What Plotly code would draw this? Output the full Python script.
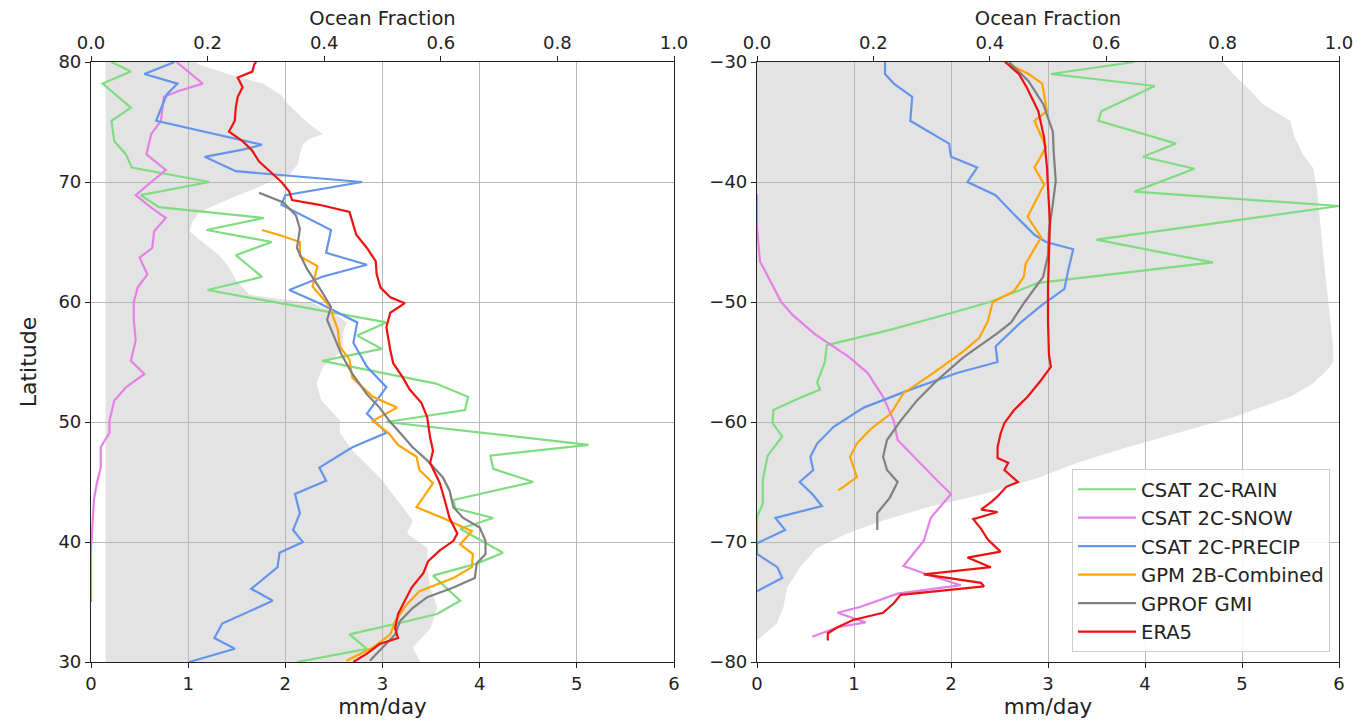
import plotly.graph_objects as go

# ---------------- Northern hemisphere (left panel) ----------------
nh_of_lat = [80.0, 79.8, 79.0, 78.2, 77.3, 76.5, 75.8, 74.8, 74.0, 73.6, 73.1, 72.3, 71.5, 70.6, 70.0,
             69.5, 68.7, 67.5, 66.7, 65.9, 65.0, 63.9, 62.9, 61.7, 60.6, 59.9, 59.3, 58.3, 57.4, 56.0,
             54.6, 53.2, 51.8, 50.15, 49.1, 47.6, 46.2, 45.1, 43.5, 41.8, 40.7, 39.5, 37.9, 36.2, 34.5,
             32.8, 31.2, 30.0]
nh_of = [0.18, 0.185, 0.235, 0.295, 0.325, 0.338, 0.353, 0.375, 0.398, 0.375, 0.363, 0.358, 0.355, 0.34,
         0.306, 0.284, 0.243, 0.186, 0.174, 0.169, 0.191, 0.22, 0.237, 0.25, 0.272, 0.38, 0.41, 0.439,
         0.432, 0.432, 0.398, 0.387, 0.395, 0.427, 0.427, 0.449, 0.478, 0.5, 0.525, 0.552, 0.542, 0.577,
         0.577, 0.582, 0.594, 0.582, 0.552, 0.565]

nh_rain_lat = [80.0, 79.2, 78.2, 76.2, 75.1, 73.4, 72.3, 71.2, 70.0, 68.9, 67.9, 67.0, 66.0, 65.0, 63.9,
               62.1, 61.0, 58.3, 57.2, 56.1, 55.1, 53.2, 52.1, 51.0, 50.0, 48.1, 47.2, 46.1, 45.0, 43.5,
               42.8, 42.0, 41.1, 39.1, 38.2, 37.2, 35.1, 34.0, 33.4, 32.3, 31.1, 30.0]
nh_rain = [0.21, 0.41, 0.12, 0.41, 0.21, 0.24, 0.36, 0.42, 1.22, 0.51, 0.70, 1.78, 1.19, 1.86, 1.49,
           1.76, 1.20, 3.04, 2.74, 2.99, 2.38, 3.55, 3.88, 3.85, 3.04, 5.12, 4.11, 4.14, 4.55, 3.73,
           3.75, 4.14, 3.80, 4.24, 3.97, 3.52, 3.80, 3.56, 3.25, 2.66, 2.84, 2.12]

nh_snow_lat = [80.0, 78.2, 77.6, 77.1, 75.1, 74.0, 72.3, 71.0, 70.0, 68.9, 67.8, 67.0, 65.9, 64.5, 63.7,
               62.3, 61.2, 60.0, 58.5, 56.8, 55.1, 54.0, 52.9, 51.8, 50.1, 49.1, 47.9, 46.2, 44.9, 43.5,
               40.7, 39.3, 35.0]
nh_snow = [0.88, 1.15, 0.91, 0.75, 0.72, 0.62, 0.57, 0.77, 0.62, 0.46, 0.63, 0.77, 0.65, 0.63, 0.50,
           0.58, 0.48, 0.44, 0.44, 0.46, 0.41, 0.55, 0.36, 0.24, 0.19, 0.19, 0.10, 0.10, 0.06, 0.03,
           0.01, 0.0, 0.0]

nh_precip_lat = [80.0, 79.0, 78.2, 77.3, 75.1, 73.1, 72.7, 72.1, 70.9, 70.0, 68.9, 68.1, 66.0, 64.1, 63.1,
                 62.1, 61.0, 59.9, 58.3, 56.6, 54.6, 52.9, 50.7, 49.1, 47.9, 46.2, 45.1, 44.0, 42.4, 41.0,
                 40.0, 39.1, 37.9, 36.1, 35.1, 33.2, 32.0, 31.1, 30.0]
nh_precip = [0.86, 0.55, 0.89, 0.78, 0.67, 1.76, 1.56, 1.17, 1.49, 2.79, 2.0, 1.96, 2.47, 2.42, 2.84,
             2.38, 2.04, 2.35, 2.74, 2.70, 2.84, 3.04, 2.84, 3.04, 2.69, 2.35, 2.42, 2.10, 2.15, 2.08,
             2.18, 1.94, 1.92, 1.65, 1.87, 1.35, 1.27, 1.48, 1.01]

nh_gpm_lat = [66.0, 65.5, 65.0, 63.8, 63.0, 61.3, 59.6, 58.8, 57.7, 56.3, 55.2, 53.7, 52.1, 51.2, 50.1,
              49.1, 48.1, 47.1, 46.0, 44.9, 42.9, 42.0, 40.9, 39.8, 39.0, 37.9, 37.0, 35.9, 34.8, 33.4,
              32.3, 31.2, 30.1]
nh_gpm = [1.76, 1.97, 2.15, 2.15, 2.33, 2.28, 2.46, 2.49, 2.54, 2.56, 2.66, 2.69, 2.90, 3.15, 2.90,
          3.06, 3.16, 3.35, 3.38, 3.52, 3.35, 3.62, 3.92, 3.80, 3.93, 3.92, 3.73, 3.38, 3.25, 3.13,
          3.08, 2.90, 2.63]

nh_gprof_lat = [69.1, 68.3, 67.2, 66.1, 64.5, 62.8, 61.2, 59.6, 58.5, 57.3, 55.6, 54.0, 52.3, 51.2, 50.1,
                49.1, 47.9, 46.8, 45.4, 44.3, 42.9, 42.0, 41.2, 40.1, 39.0, 38.2, 37.0, 36.2, 35.4, 34.5,
                33.4, 32.3, 31.2, 30.1]
nh_gprof = [1.73, 1.98, 2.11, 2.15, 2.12, 2.22, 2.35, 2.47, 2.43, 2.49, 2.58, 2.69, 2.84, 2.97, 3.07,
            3.18, 3.31, 3.46, 3.62, 3.69, 3.73, 3.83, 4.0, 4.06, 4.06, 3.97, 3.95, 3.73, 3.46, 3.31,
            3.18, 3.13, 3.0, 2.87]

nh_era5_lat = [80.0, 79.8, 79.2, 78.7, 77.9, 77.1, 76.2, 75.1, 74.2, 73.4, 72.6, 71.7, 70.9, 70.0, 69.2,
               68.5, 68.1, 67.5, 66.7, 65.6, 64.5, 63.4, 62.3, 61.2, 60.4, 59.9, 59.1, 57.9, 56.0, 54.9,
               53.7, 52.7, 51.6, 50.4, 48.7, 47.6, 46.6, 45.5, 44.9, 43.5, 42.0, 40.7, 40.1, 39.3, 38.4,
               37.4, 36.2, 35.1, 34.0, 32.8, 32.0, 31.5, 30.7, 30.0]
nh_era5 = [1.70, 1.68, 1.66, 1.51, 1.56, 1.51, 1.49, 1.48, 1.42, 1.56, 1.66, 1.73, 1.84, 1.96, 2.04,
           2.07, 2.35, 2.66, 2.69, 2.73, 2.84, 2.93, 2.94, 2.98, 3.08, 3.23, 3.08, 3.04, 3.08, 3.11,
           3.21, 3.28, 3.40, 3.46, 3.49, 3.52, 3.49, 3.55, 3.59, 3.64, 3.69, 3.77, 3.73, 3.59, 3.47,
           3.42, 3.30, 3.23, 3.16, 3.13, 3.16, 2.97, 2.84, 2.70]

# ---------------- Southern hemisphere (right panel) ----------------
sh_of_lat = [-30.0, -31.0, -32.1, -33.5, -34.9, -36.3, -37.7, -38.8, -40.5, -43.3, -46.1, -48.8, -51.7,
             -53.8, -55.0, -55.7, -56.8, -57.9, -59.6, -60.7, -62.1, -63.4, -64.7, -66.0, -67.1, -68.2,
             -69.3, -70.5, -72.1, -73.8, -75.5, -76.8, -78.0, -78.2]
sh_of = [0.80, 0.818, 0.842, 0.869, 0.916, 0.924, 0.938, 0.955, 0.962, 0.967, 0.973, 0.979, 0.985,
         0.990, 0.990, 0.979, 0.955, 0.916, 0.818, 0.739, 0.636, 0.55, 0.48, 0.39, 0.293, 0.217,
         0.155, 0.103, 0.074, 0.052, 0.045, 0.034, 0.005, 0.0]

sh_rain_lat = [-30.0, -31.0, -32.0, -34.1, -34.9, -36.8, -37.9, -38.9, -40.8, -42.0, -44.8, -46.7, -48.4,
               -50.0, -51.1, -52.3, -53.6, -55.0, -56.7, -57.3, -58.1, -59.0, -60.1, -61.2, -62.8, -64.8,
               -66.8, -67.9, -70.0]
sh_rain = [3.89, 3.03, 4.10, 3.55, 3.52, 4.32, 3.98, 4.51, 3.89, 6.0, 3.50, 4.70, 2.90,
           2.40, 1.92, 1.38, 0.72, 0.70, 0.62, 0.65, 0.41, 0.17, 0.16, 0.26, 0.11, 0.06,
           0.06, 0.0, 0.0]

sh_snow_lat = [-41.0, -43.7, -46.6, -48.8, -50.0, -51.1, -52.7, -54.6, -55.9, -57.9, -59.9, -61.5, -63.2,
               -64.9, -66.0, -68.0, -69.9, -72.0, -72.6, -73.6, -74.3, -75.4, -75.9, -76.7, -77.1, -77.9]
sh_snow = [0.0, 0.0, 0.03, 0.17, 0.25, 0.37, 0.60, 0.95, 1.14, 1.30, 1.41, 1.45, 1.65,
           1.86, 2.0, 1.79, 1.72, 1.51, 1.72, 2.10, 1.45, 1.07, 0.83, 1.12, 0.83, 0.57]

sh_precip_lat = [-30.0, -31.0, -31.8, -32.9, -34.9, -36.0, -36.8, -37.9, -38.8, -40.0, -41.1, -42.7, -44.4,
                 -45.0, -45.6, -47.3, -48.9, -50.3, -51.7, -53.7, -55.0, -55.9, -57.3, -58.8, -60.4, -61.8,
                 -62.9, -64.0, -65.0, -66.0, -67.0, -68.0, -69.0, -70.1, -71.0, -72.1, -73.0, -74.1]
sh_precip = [1.32, 1.32, 1.41, 1.60, 1.58, 1.82, 1.98, 2.0, 2.27, 2.17, 2.46, 2.65, 2.86,
             2.98, 3.26, 3.21, 3.17, 2.93, 2.72, 2.46, 2.48, 2.07, 1.58, 1.10, 0.79, 0.62,
             0.55, 0.58, 0.44, 0.57, 0.67, 0.19, 0.29, 0.0, 0.0, 0.21, 0.26, 0.0]

sh_gpm_lat = [-30.0, -31.0, -31.8, -34.1, -34.9, -37.1, -38.8, -40.2, -42.9, -44.6, -46.8, -47.9, -49.1,
              -50.0, -51.6, -53.0, -54.1, -55.9, -57.6, -59.3, -60.6, -61.8, -62.9, -64.6, -65.7]
sh_gpm = [2.55, 2.80, 2.94, 2.99, 2.86, 2.98, 2.86, 2.96, 2.79, 2.93, 2.77, 2.75, 2.65,
          2.43, 2.38, 2.29, 2.13, 1.82, 1.51, 1.38, 1.17, 1.03, 0.96, 1.03, 0.84]

sh_gprof_lat = [-30.0, -31.6, -33.5, -35.8, -37.7, -39.9, -41.8, -44.1, -46.1, -47.9, -50.0, -51.7, -52.6,
                -54.6, -56.5, -58.2, -59.9, -61.5, -62.9, -64.0, -65.0, -66.3, -67.6, -69.0]
sh_gprof = [2.60, 2.80, 2.95, 3.05, 3.06, 3.08, 3.05, 3.01, 3.0, 2.95, 2.76, 2.62, 2.48,
            2.13, 1.86, 1.65, 1.48, 1.34, 1.30, 1.34, 1.45, 1.37, 1.24, 1.24]

sh_era5_lat = [-30.0, -31.0, -32.1, -34.1, -36.3, -38.8, -40.5, -43.3, -46.1, -48.8, -51.7, -54.4, -55.4,
               -56.5, -57.9, -59.0, -60.1, -61.0, -62.1, -63.0, -63.4, -64.0, -65.0, -65.4, -66.2, -66.7,
               -67.3, -67.5, -68.1, -68.9, -69.8, -70.8, -71.3, -72.1, -72.7, -73.4, -73.7, -74.1, -74.4,
               -75.1, -75.9, -76.5, -77.1, -77.6, -78.2]
sh_era5 = [2.56, 2.70, 2.78, 2.90, 2.96, 2.99, 3.0, 3.02, 3.01, 3.0, 3.0, 3.01, 3.03,
           2.93, 2.79, 2.65, 2.55, 2.51, 2.48, 2.48, 2.59, 2.55, 2.69, 2.57, 2.48, 2.41,
           2.31, 2.48, 2.23, 2.31, 2.38, 2.51, 2.17, 2.41, 1.72, 2.31, 2.34, 1.82, 1.48,
           1.41, 1.30, 0.99, 0.83, 0.73, 0.73]

series_names = ["CSAT 2C-RAIN", "CSAT 2C-SNOW", "CSAT 2C-PRECIP", "GPM 2B-Combined", "GPROF GMI", "ERA5"]
series_colors = ["#80dc80", "#e680e6", "#6495ed", "#ffa500", "#808080", "#ee1111"]

nh_series = [(nh_rain_lat, nh_rain), (nh_snow_lat, nh_snow), (nh_precip_lat, nh_precip),
             (nh_gpm_lat, nh_gpm), (nh_gprof_lat, nh_gprof), (nh_era5_lat, nh_era5)]
sh_series = [(sh_rain_lat, sh_rain), (sh_snow_lat, sh_snow), (sh_precip_lat, sh_precip),
             (sh_gpm_lat, sh_gpm), (sh_gprof_lat, sh_gprof), (sh_era5_lat, sh_era5)]

fig = go.Figure()

FILL = "rgba(185,185,185,0.40)"
LW = 2.2


def add_fill(lat, frac, base, xa, ya):
    xs = list(frac) + [base] * len(lat)
    ys = list(lat) + list(lat)[::-1]
    fig.add_trace(go.Scatter(x=xs, y=ys, xaxis=xa, yaxis=ya, mode="lines", fill="toself",
                             fillcolor=FILL, line=dict(width=0), hoverinfo="skip", showlegend=False))


add_fill(nh_of_lat, nh_of, 0.025, "x", "y")
add_fill(sh_of_lat, sh_of, 0.0, "x2", "y2")

for (lat, val), name, col in zip(nh_series, series_names, series_colors):
    fig.add_trace(go.Scatter(x=val, y=lat, xaxis="x3", yaxis="y", mode="lines", name=name,
                             line=dict(color=col, width=LW), showlegend=False))
for (lat, val), name, col in zip(sh_series, series_names, series_colors):
    fig.add_trace(go.Scatter(x=val, y=lat, xaxis="x4", yaxis="y2", mode="lines", name=name,
                             line=dict(color=col, width=LW), showlegend=True))

W, H = 1361, 725
L_dom = [91 / W, 674 / W]
R_dom = [757 / W, 1339 / W]
Y_dom = [(H - 662) / H, (H - 62) / H]

TICKF = dict(family="DejaVu Sans", size=18, color="#222222")
common = dict(showline=True, linecolor="#222222", linewidth=1.2, ticks="outside", ticklen=5,
              tickwidth=1.2, tickcolor="#222222", tickfont=TICKF, zeroline=False, automargin=False)

frac_ticks = [0.0, 0.2, 0.4, 0.6, 0.8, 1.0]
frac_labels = ["0.0", "0.2", "0.4", "0.6", "0.8", "1.0"]
mm_ticks = [0, 1, 2, 3, 4, 5, 6]
nh_lat_ticks = [30, 40, 50, 60, 70, 80]
sh_lat_ticks = [-80, -70, -60, -50, -40, -30]
sh_lat_labels = ["\u221280", "\u221270", "\u221260", "\u221250", "\u221240", "\u221230"]

GRID = "#b8b8b8"

fig.update_layout(
    width=W, height=H, margin=dict(l=0, r=0, t=0, b=0),
    paper_bgcolor="white", plot_bgcolor="white",
    font=dict(family="DejaVu Sans", color="#222222"),
    xaxis=dict(domain=L_dom, range=[0, 1], side="top", anchor="y", showgrid=False,
               tickvals=frac_ticks, ticktext=frac_labels,
               title=dict(text="Ocean Fraction", font=dict(size=19.5), standoff=0), **common),
    xaxis2=dict(domain=R_dom, range=[0, 1], side="top", anchor="y2", showgrid=False,
                tickvals=frac_ticks, ticktext=frac_labels,
                title=dict(text="Ocean Fraction", font=dict(size=19.5), standoff=0), **common),
    xaxis3=dict(overlaying="x", side="bottom", anchor="y", range=[0, 6], tickvals=mm_ticks,
                showgrid=True, gridcolor=GRID, gridwidth=1,
                title=dict(text="mm/day", font=dict(size=21.5), standoff=4), **common),
    xaxis4=dict(overlaying="x2", side="bottom", anchor="y2", range=[0, 6], tickvals=mm_ticks,
                showgrid=True, gridcolor=GRID, gridwidth=1,
                title=dict(text="mm/day", font=dict(size=21.5), standoff=4), **common),
    yaxis=dict(domain=Y_dom, anchor="x", range=[30, 80], tickvals=nh_lat_ticks, mirror=True,
               showgrid=True, gridcolor=GRID, gridwidth=1,
               title=dict(text="Latitude", font=dict(size=22), standoff=15), **common),
    yaxis2=dict(domain=Y_dom, anchor="x2", range=[-80, -30], tickvals=sh_lat_ticks,
                ticktext=sh_lat_labels, mirror=True,
                showgrid=True, gridcolor=GRID, gridwidth=1, **common),
    legend=dict(x=1330 / W, xanchor="right", y=(H - 652) / H, yanchor="bottom", itemwidth=58,
                bgcolor="rgba(255,255,255,0.85)", bordercolor="#cccccc", borderwidth=1,
                font=dict(family="DejaVu Sans", size=19.6, color="#222222")),
)

fig.write_html("out.html", config={"displayModeBar": False},
               post_script="document.body.style.margin='0';document.body.style.overflow='hidden';")
